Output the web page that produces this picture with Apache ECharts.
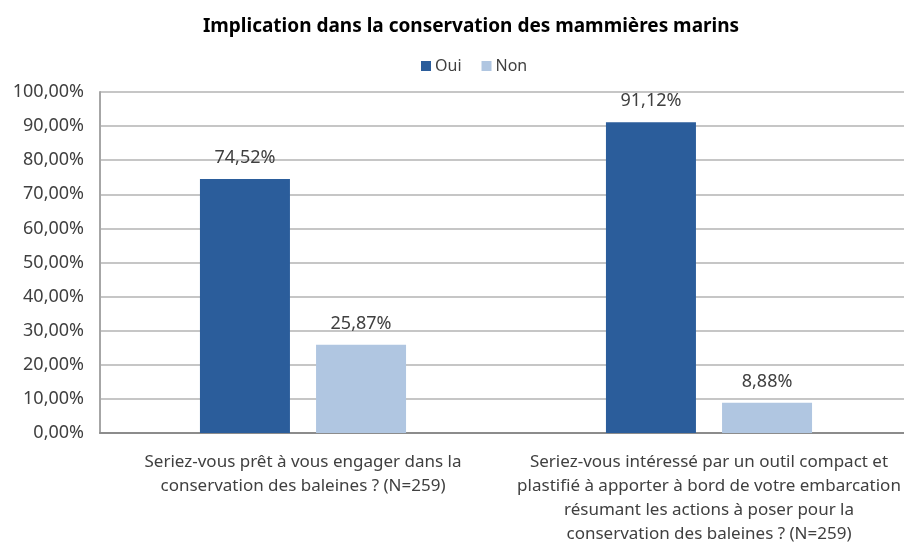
<!DOCTYPE html>
<html>
<head>
<meta charset="utf-8">
<script src="https://cdn.jsdelivr.net/npm/echarts@6/dist/echarts.min.js"></script>
<style>
  html, body { margin: 0; padding: 0; background: #fff; }
  #chart { width: 904px; height: 542px; }
</style>
</head>
<body>
<div id="chart"></div>
<script>
var categories = [
  "Seriez-vous prêt à vous engager dans la\nconservation des baleines ? (N=259)",
  "Seriez-vous intéressé par un outil compact et\nplastifié à apporter à bord de votre embarcation\nrésumant les actions à poser pour la\nconservation des baleines ? (N=259)"
];
var ouiValues = [74.52, 91.12];
var nonValues = [25.87, 8.88];

function pct(v) {
  return v.toFixed(2).replace(".", ",") + "%";
}

var font = "Noto Sans";
var chart = echarts.init(document.getElementById("chart"));
chart.setOption({
  animation: false,
  title: {
    text: "Implication dans la conservation des mammières marins",
    left: 466,
    textAlign: "center",
    top: 12,
    textStyle: { fontFamily: font, fontSize: 19, fontWeight: "bold", color: "#000" }
  },
  legend: {
    data: ["Oui", "Non"],
    left: 416,
    top: 53,
    itemWidth: 10,
    itemHeight: 10,
    itemGap: 20,
    icon: "rect",
    textStyle: { fontFamily: font, fontSize: 16, color: "#404040", padding: [0, 0, 0, -1] }
  },
  grid: {
    left: 100,
    top: 92,
    width: 812,
    height: 341,
    containLabel: false,
    outerBoundsMode: "none"
  },
  xAxis: {
    type: "category",
    data: categories,
    axisTick: { show: false },
    axisLine: { lineStyle: { color: "#8c8c8c", width: 2 } },
    axisLabel: {
      interval: 0,
      fontFamily: font,
      fontSize: 17,
      color: "#404040",
      lineHeight: 24,
      margin: 17
    }
  },
  yAxis: {
    type: "value",
    min: 0,
    max: 100,
    interval: 10,
    axisLine: { show: true, lineStyle: { color: "#a6a6a6", width: 2 } },
    axisTick: { show: false },
    splitLine: { lineStyle: { color: "#c6c6c6", width: 2 } },
    axisLabel: {
      fontFamily: font,
      fontSize: 18,
      color: "#404040",
      margin: 16,
      formatter: function (v) { return pct(v); }
    }
  },
  series: [
    {
      name: "Oui",
      type: "bar",
      data: ouiValues,
      barWidth: 90,
      barGap: "29%",
      itemStyle: { color: "#2b5d9b" },
      label: {
        show: true,
        position: "top",
        distance: 12,
        fontFamily: font,
        fontSize: 18,
        color: "#404040",
        formatter: function (p) { return pct(p.value); }
      }
    },
    {
      name: "Non",
      type: "bar",
      data: nonValues,
      barWidth: 90,
      itemStyle: { color: "#b0c6e1" },
      label: {
        show: true,
        position: "top",
        distance: 12,
        fontFamily: font,
        fontSize: 18,
        color: "#404040",
        formatter: function (p) { return pct(p.value); }
      }
    }
  ]
});
</script>
</body>
</html>
